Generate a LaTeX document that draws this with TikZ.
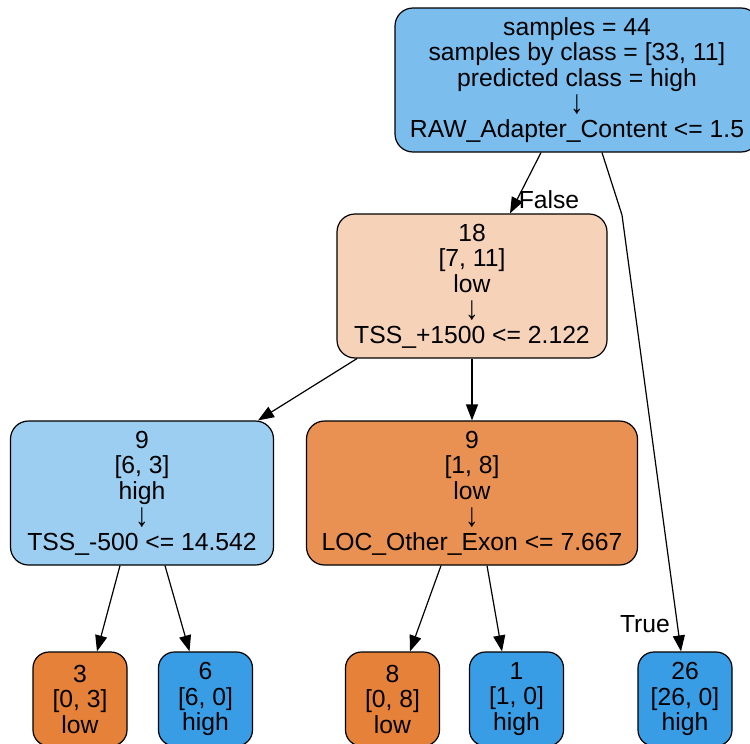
\documentclass[tikz,border=0pt]{standalone}
\usepackage{fontspec}
\usepackage{graphicx}
\setmainfont{Liberation Sans}
\usetikzlibrary{arrows.meta}
\definecolor{rootfill}{HTML}{7BBEEE}
\definecolor{lowpale}{HTML}{F6D2B8}
\definecolor{highpale}{HTML}{9CCEF2}
\definecolor{lowdeep}{HTML}{E89152}
\definecolor{lowpure}{HTML}{E58139}
\definecolor{highpure}{HTML}{399DE5}
% tall thin arrow between the class line and the split rule
\newcommand{\splitarrow}{\raisebox{-2pt}[\height][0pt]{\scalebox{1.1}[1.35]{↓}}}
\begin{document}
\begin{tikzpicture}[x=1pt,y=-1pt,
  treenode/.style={draw=black, line width=1.2pt, rounded corners=18pt,
    align=center, inner sep=0pt, minimum height=144pt,
    font=\fontsize{24.7}{25.5}\selectfont},
  leafnode/.style={treenode, rounded corners=16pt, minimum width=94pt, minimum height=94pt},
  edge/.style={line width=1.2pt, -{Triangle[length=16pt,width=12pt]}},
  edgelabel/.style={inner sep=0pt, font=\fontsize{24.7}{25.5}\selectfont}]
\useasboundingbox (0,0) rectangle (750,744);

% decision nodes
\node[treenode, fill=rootfill, minimum width=364pt] (root) at (577,80)
  {samples = 44\\samples by class = [33, 11]\\predicted class = high\\\splitarrow\\RAW\_Adapter\_Content <= 1.5};
\node[treenode, fill=lowpale, minimum width=270pt] (n18) at (472,286)
  {18\\{}[7, 11]\\low\\\splitarrow\\TSS\_+1500 <= 2.122};
\node[treenode, fill=highpale, minimum width=263pt] (n9a) at (142,493)
  {9\\{}[6, 3]\\high\\\splitarrow\\TSS\_-500 <= 14.542};
\node[treenode, fill=lowdeep, minimum width=331pt] (n9b) at (472,493)
  {9\\{}[1, 8]\\low\\\splitarrow\\LOC\_Other\_Exon <= 7.667};

% leaves
\node[leafnode, fill=lowpure] (l3) at (80,699) {3\\{}[0, 3]\\low};
\node[leafnode, fill=highpure] (l6) at (205.5,699) {6\\{}[6, 0]\\high};
\node[leafnode, fill=lowpure] (l8) at (392.5,699) {8\\{}[0, 8]\\low};
\node[leafnode, fill=highpure] (l1) at (516.5,699) {1\\{}[1, 0]\\high};
\node[leafnode, fill=highpure] (l26) at (685,699) {26\\{}[26, 0]\\high};

% connectors
\draw[edge] ([xshift=-36pt]root.south) -- ([xshift=38pt]n18.north);
\coordinate (bend) at (622,215);
\draw[edge] ([xshift=25pt]root.south) -- (bend) -- ([xshift=-4pt]l26.north);
\draw[edge] ([xshift=-115pt]n18.south) -- ([xshift=116pt]n9a.north);
\draw[edge] (n18.south) -- (n9b.north);
\draw[edge] ([xshift=-22pt]n9a.south) -- ([xshift=17pt]l3.north);
\draw[edge] ([xshift=23pt]n9a.south) -- ([xshift=-16pt]l6.north);
\draw[edge] ([xshift=-31pt]n9b.south) -- ([xshift=17.5pt]l8.north);
\draw[edge] ([xshift=15pt]n9b.south) -- ([xshift=-14.5pt]l1.north);

% branch labels
\node[edgelabel] (falselbl) at (549,200) {False};
\node[edgelabel] (truelbl) at (645,624) {True};
\end{tikzpicture}
\end{document}
